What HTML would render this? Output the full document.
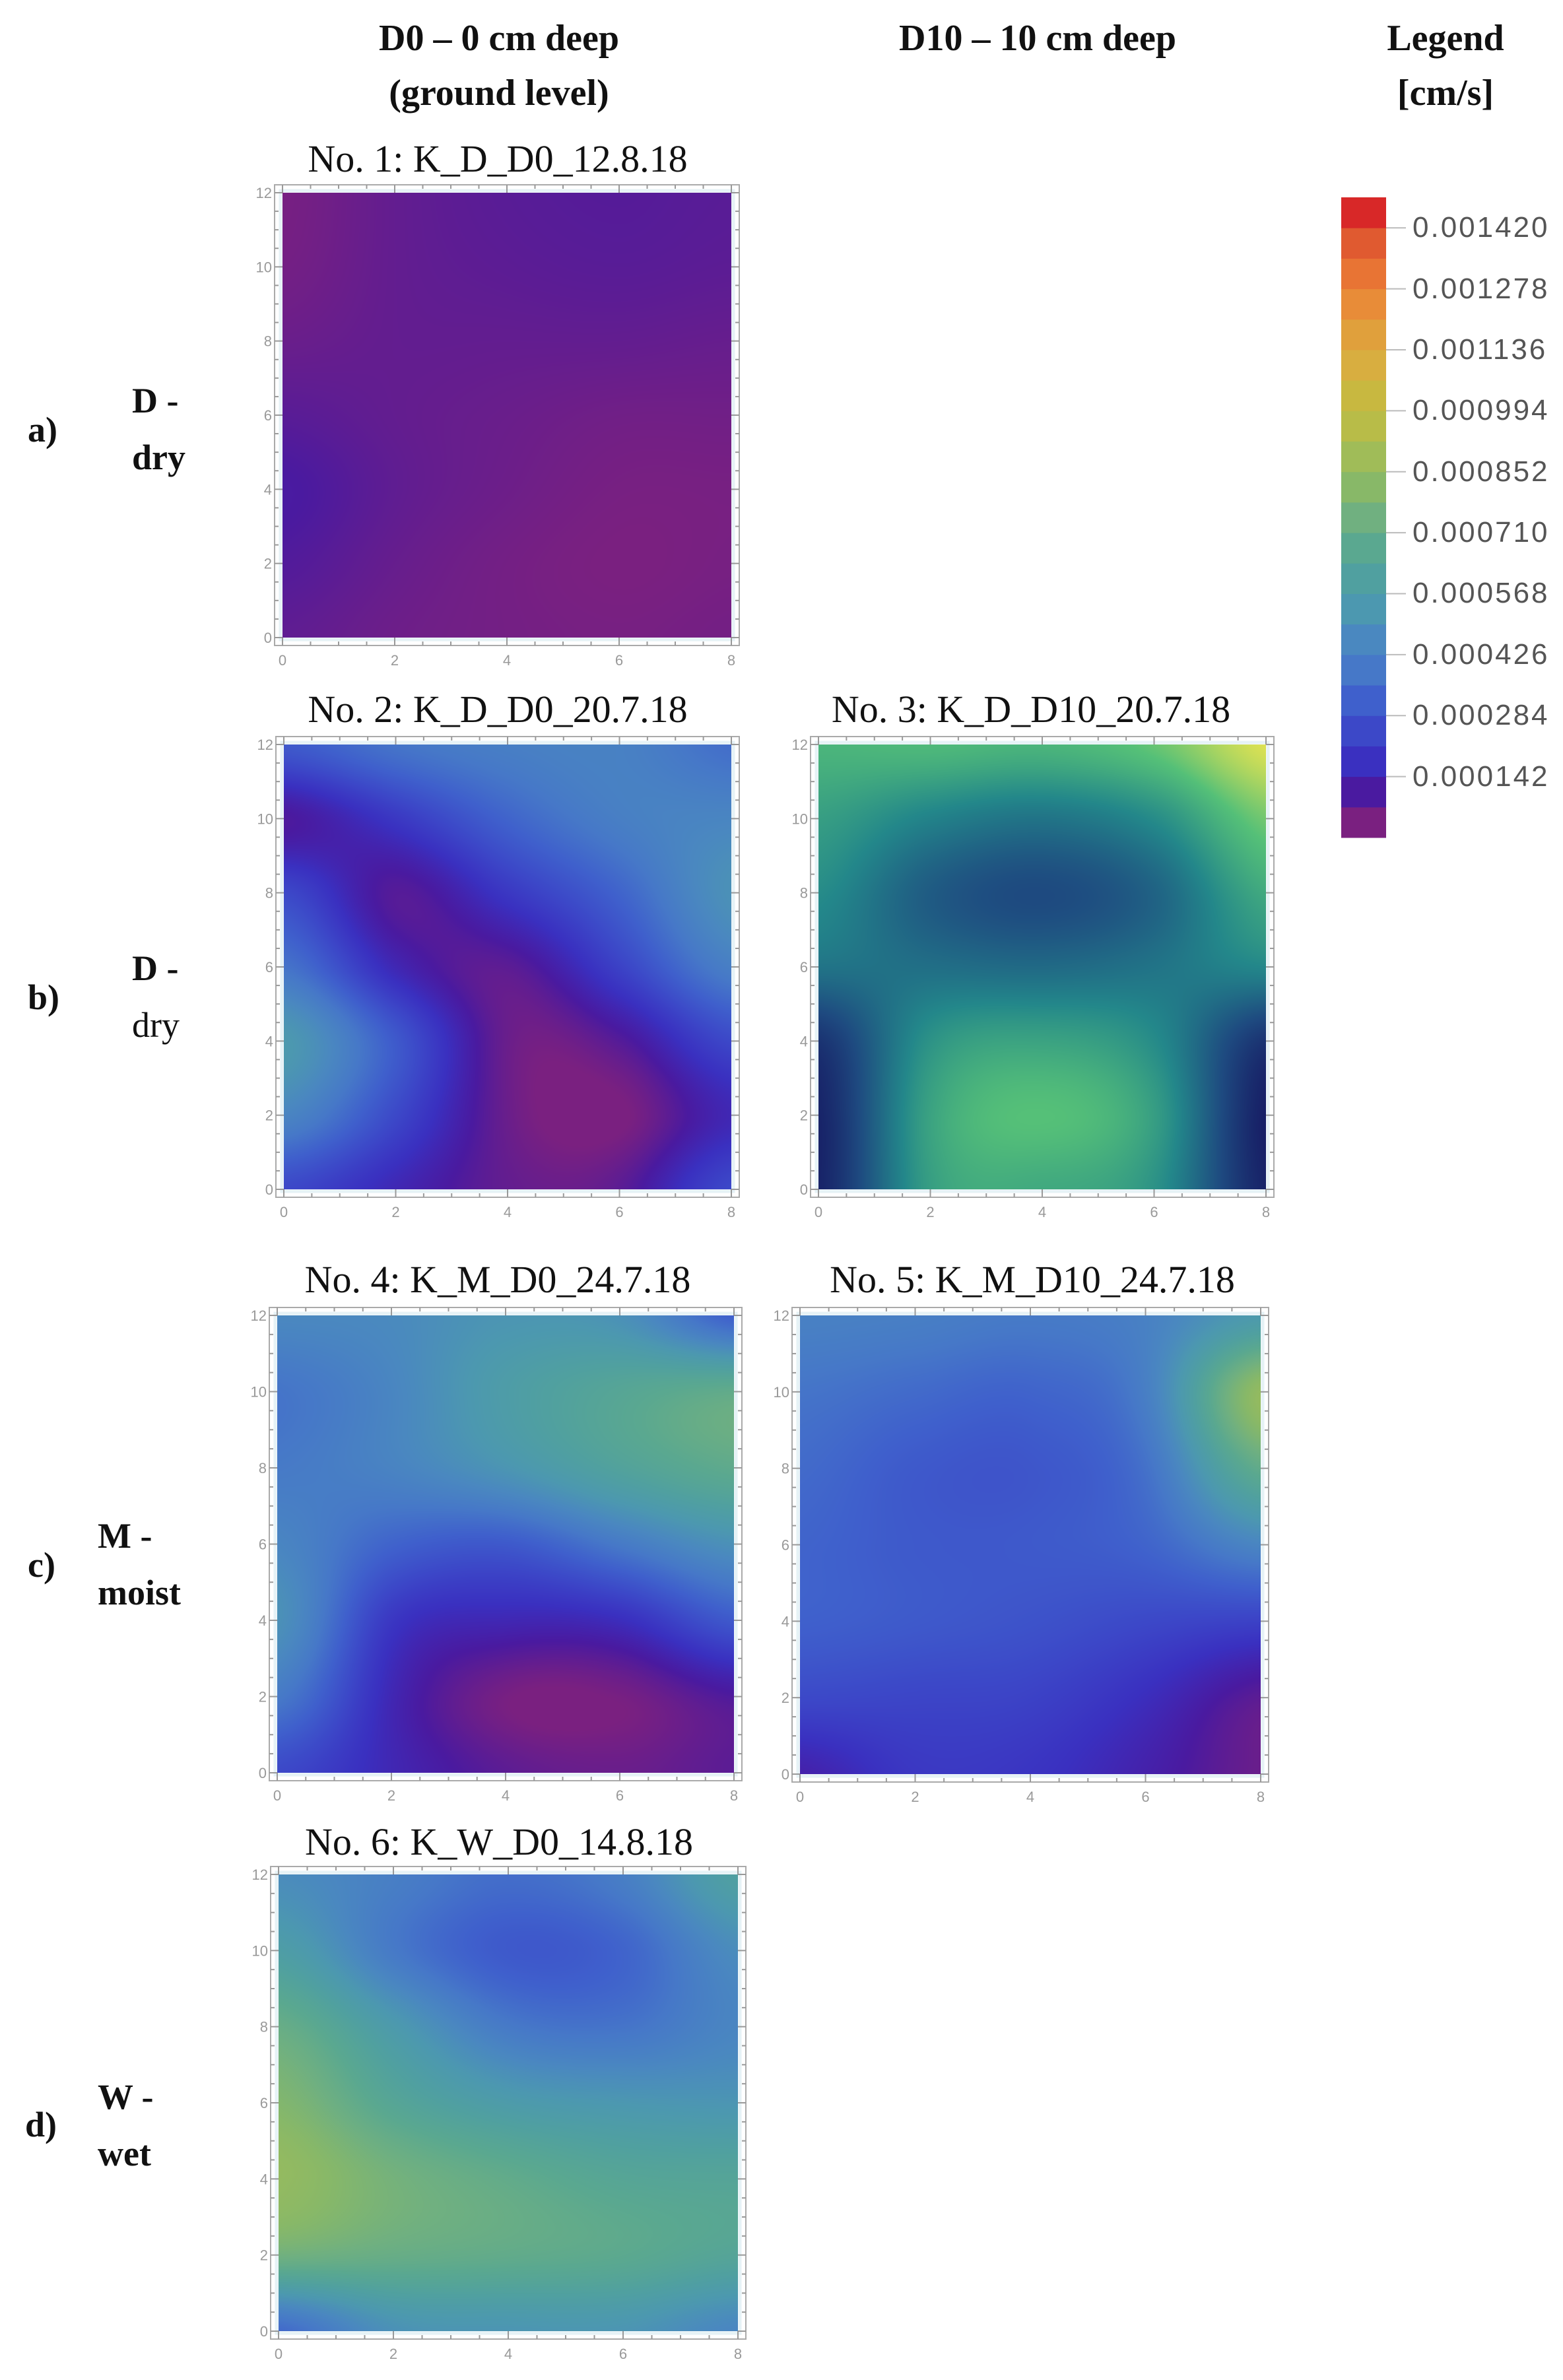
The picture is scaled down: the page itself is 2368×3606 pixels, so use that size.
<!DOCTYPE html>
<html><head><meta charset="utf-8">
<style>
body{margin:0;background:#fff;}
#root{position:relative;width:2368px;height:3606px;overflow:hidden;background:#fff;font-family:"Liberation Serif",serif;}
.hdr{position:absolute;font-weight:bold;font-size:56px;text-align:center;transform:translateX(-50%);white-space:nowrap;line-height:1;color:#111;}
.row{position:absolute;font-size:54px;line-height:1;color:#111;white-space:nowrap;}
.ttl{position:absolute;font-size:58px;transform:translateX(-50%);white-space:nowrap;line-height:1;color:#111;}
.leg{position:absolute;left:2140px;font-family:"Liberation Sans",sans-serif;font-size:44px;color:#555;letter-spacing:3px;line-height:1;}
canvas{position:absolute;}
svg{position:absolute;left:0;top:0;}
</style></head><body>
<div id="root">
<div class="hdr" style="left:756px;top:30px">D0 – 0 cm deep</div>
<div class="hdr" style="left:756px;top:113px">(ground level)</div>
<div class="hdr" style="left:1572px;top:30px">D10 – 10 cm deep</div>
<div class="hdr" style="left:2190px;top:30px">Legend</div>
<div class="hdr" style="left:2190px;top:113px">[cm/s]</div>

<div class="row" style="left:42px;top:624px;font-weight:bold">a)</div>
<div class="row" style="left:200px;top:580px;font-weight:bold">D -</div>
<div class="row" style="left:200px;top:666px;font-weight:bold">dry</div>
<div class="row" style="left:42px;top:1484px;font-weight:bold">b)</div>
<div class="row" style="left:200px;top:1440px;font-weight:bold">D -</div>
<div class="row" style="left:200px;top:1526px">dry</div>
<div class="row" style="left:42px;top:2344px;font-weight:bold">c)</div>
<div class="row" style="left:148px;top:2300px;font-weight:bold">M -</div>
<div class="row" style="left:148px;top:2386px;font-weight:bold">moist</div>
<div class="row" style="left:38px;top:3192px;font-weight:bold">d)</div>
<div class="row" style="left:148px;top:3150px;font-weight:bold">W -</div>
<div class="row" style="left:148px;top:3236px;font-weight:bold">wet</div>

<div class="ttl" style="left:754px;top:212px">No. 1: K_D_D0_12.8.18</div>
<div class="ttl" style="left:754px;top:1046px">No. 2: K_D_D0_20.7.18</div>
<div class="ttl" style="left:1562px;top:1046px">No. 3: K_D_D10_20.7.18</div>
<div class="ttl" style="left:754px;top:1910px">No. 4: K_M_D0_24.7.18</div>
<div class="ttl" style="left:1564px;top:1910px">No. 5: K_M_D10_24.7.18</div>
<div class="ttl" style="left:756px;top:2762px">No. 6: K_W_D0_14.8.18</div>

<svg id="axes" width="2368" height="3606"></svg>
</div>
<script>
// ---- data (values in 1e-6 cm/s; rows y=12,10,8,6,4,2,0; cols x=0,2,4,6,8) ----
const xTicks=[0,2,4,6,8];
const yTicks=[12,10,8,6,4,2,0];
const legendTicks=["0.001420","0.001278","0.001136","0.000994","0.000852","0.000710","0.000568","0.000426","0.000284","0.000142"];
const legendTickValues=[1420,1278,1136,994,852,710,568,426,284,142];
const legendBandColors=["#7a2080","#4a1aa0","#3a30c0","#3c48c8","#3f60cc","#4678c8","#4a88c0","#4c98b0","#50a0a0","#5aa890","#70b080","#88b868","#a0bc58","#b8bc48","#c8b840","#d8ae40","#e0a03c","#e88c38","#e87434","#e05a30","#d82828"];
const grid1=[[40,70,85,90,85],[45,70,80,85,80],[60,70,70,70,65],[85,70,60,50,50],[110,75,55,40,40],[95,65,45,35,40],[75,55,45,40,45]];
const grid2=[[300,380,420,430,360],[100,200,330,420,450],[250,90,200,330,500],[380,150,80,230,420],[540,300,60,90,250],[450,250,60,30,150],[250,150,70,80,250]];
const grid3=[[700,720,700,780,980],[600,480,420,520,800],[520,320,250,350,650],[420,400,380,420,500],[150,550,620,520,150],[80,620,750,600,60],[80,600,650,550,80]];
const grid4=[[460,470,520,500,320],[380,450,570,650,700],[400,440,520,620,690],[450,330,300,400,500],[500,200,150,170,300],[400,150,40,40,100],[250,150,80,60,80]];
const grid5=[[430,420,400,430,550],[380,350,330,420,850],[350,300,290,370,700],[330,300,300,330,450],[320,300,280,250,230],[250,240,230,170,80],[130,200,190,130,60]];
const grid6=[[480,420,360,420,600],[580,400,300,330,480],[720,550,400,380,450],[800,650,560,530,520],[850,760,700,650,640],[750,720,700,680,640],[350,500,520,520,450]];
const viridisStops=["#15125e","#1e4a80","#23878a","#55c078","#e8e450"];

const panels=[
 {name:'heatmap-no1',grid:grid1,x0:428,x1:1108,y0:292,y1:966,pal:'legend'},
 {name:'heatmap-no2',grid:grid2,x0:430,x1:1108,y0:1128,y1:1802,pal:'legend'},
 {name:'heatmap-no3',grid:grid3,x0:1240,x1:1918,y0:1128,y1:1802,pal:'viridis'},
 {name:'heatmap-no4',grid:grid4,x0:420,x1:1112,y0:1993,y1:2686,pal:'legend'},
 {name:'heatmap-no5',grid:grid5,x0:1212,x1:1910,y0:1993,y1:2688,pal:'legend'},
 {name:'heatmap-no6',grid:grid6,x0:422,x1:1118,y0:2840,y1:3532,pal:'legend'}
];

function hex(c){return [parseInt(c.substr(1,2),16),parseInt(c.substr(3,2),16),parseInt(c.substr(5,2),16)];}
const legRGB=legendBandColors.map(hex), virRGB=viridisStops.map(hex);
const bandW=71;
function colorLegend(v){
  let t=v/bandW-0.5; if(t<0)t=0; if(t>legRGB.length-1)t=legRGB.length-1;
  const i=Math.min(Math.floor(t),legRGB.length-2), f=t-i;
  return legRGB[i].map((c,k)=>c+(legRGB[i+1][k]-c)*f);
}
function colorVir(v){
  let t=v/1000*(virRGB.length-1); if(t<0)t=0; if(t>virRGB.length-1)t=virRGB.length-1;
  const i=Math.min(Math.floor(t),virRGB.length-2), f=t-i;
  return virRGB[i].map((c,k)=>c+(virRGB[i+1][k]-c)*f);
}
function cr(p0,p1,p2,p3,t){return 0.5*((2*p1)+(-p0+p2)*t+(2*p0-5*p1+4*p2-p3)*t*t+(-p0+3*p1-3*p2+p3)*t*t*t);}
function sample(grid,xv,yv){ // Catmull-Rom bicubic
  const ncol=xTicks.length, nrow=yTicks.length;
  let cx=xv/8*(ncol-1), ry=(12-yv)/12*(nrow-1);
  let i=Math.min(Math.floor(cx),ncol-2), j=Math.min(Math.floor(ry),nrow-2);
  let fx=cx-i, fy=ry-j;
  const g=(r,c)=>grid[Math.max(0,Math.min(nrow-1,r))][Math.max(0,Math.min(ncol-1,c))];
  const rows=[];
  for(let r=j-1;r<=j+2;r++) rows.push(cr(g(r,i-1),g(r,i),g(r,i+1),g(r,i+2),fx));
  return cr(rows[0],rows[1],rows[2],rows[3],fy);
}
const root=document.getElementById('root');
const svg=document.getElementById('axes');
const NS='http://www.w3.org/2000/svg';
function el(tag,attrs,parent){const e=document.createElementNS(NS,tag);for(const k in attrs)e.setAttribute(k,attrs[k]);parent.appendChild(e);return e;}

panels.forEach(p=>{
  const W=p.x1-p.x0,H=p.y1-p.y0;
  const cv=document.createElement('canvas');
  
  
  cv.width=W;cv.height=H;cv.style.left=p.x0+'px';cv.style.top=p.y0+'px';
  const ctx=cv.getContext('2d'); const img=ctx.createImageData(W,H);
  for(let py=0;py<H;py++){const yv=12-py/(H-1)*12;
    for(let px=0;px<W;px++){const xv=px/(W-1)*8;
      const v=sample(p.grid,xv,yv);
      const c=p.pal==='viridis'?colorVir(v):colorLegend(v);
      const o=(py*W+px)*4; img.data[o]=c[0];img.data[o+1]=c[1];img.data[o+2]=c[2];img.data[o+3]=255;}}
  ctx.putImageData(img,0,0);
  root.insertBefore(cv,svg);
  const fx0=p.x0-12,fx1=p.x1+12,fy0=p.y0-12,fy1=p.y1+12;
  const g=el('g',{},svg);
  
  
  el('rect',{x:fx0,y:fy0,width:fx1-fx0,height:fy1-fy0,fill:'none',stroke:'#aaa','stroke-width':2},g);
  el('rect',{x:p.x0-3,y:p.y0-3,width:W+6,height:H+6,fill:'none',stroke:'#e6f2f6','stroke-width':5},g);
  const sx=v=>p.x0+v/8*W, sy=v=>p.y1-v/12*H;
  for(let v=0;v<=8;v+=0.5){const x=sx(v),L=(v%2===0)?12:6;
    el('line',{x1:x,y1:fy1,x2:x,y2:fy1-L,stroke:'#999','stroke-width':2},g);
    el('line',{x1:x,y1:fy0,x2:x,y2:fy0+L,stroke:'#999','stroke-width':2},g);}
  for(let v=0;v<=12;v+=0.5){const y=sy(v),L=(v%2===0)?12:6;
    el('line',{x1:fx0,y1:y,x2:fx0+L,y2:y,stroke:'#999','stroke-width':2},g);
    el('line',{x1:fx1,y1:y,x2:fx1-L,y2:y,stroke:'#999','stroke-width':2},g);}
  xTicks.forEach(v=>{const t=el('text',{x:sx(v),y:fy1+30,'font-size':22,'font-family':'Liberation Sans, sans-serif',fill:'#999','text-anchor':'middle'},g);t.textContent=v;
    
    });
  yTicks.forEach(v=>{const t=el('text',{x:fx0-4,y:sy(v)+8,'font-size':22,'font-family':'Liberation Sans, sans-serif',fill:'#999','text-anchor':'end'},g);t.textContent=v;
    
    });
});

const LB={x0:2032,x1:2100,y0:299,y1:1269};
const bh=(LB.y1-LB.y0)/legendBandColors.length;
const lg=el('g',{},svg);


legendBandColors.forEach((c,i)=>{
  const r=el('rect',{x:LB.x0,y:LB.y1-(i+1)*bh,width:LB.x1-LB.x0,height:bh+0.5,fill:c},lg);
  
  
});
const vy=v=>LB.y1-v/bandW*bh;
legendTickValues.forEach((v,i)=>{
  el('line',{x1:LB.x1,y1:vy(v),x2:LB.x1+30,y2:vy(v),stroke:'#bbb','stroke-width':2},lg);
  const d=document.createElement('div');
  d.className='leg';
  
  
  d.style.top=(vy(v)-22)+'px'; d.textContent=legendTicks[i];
  root.appendChild(d);
});
</script>
</body></html>
